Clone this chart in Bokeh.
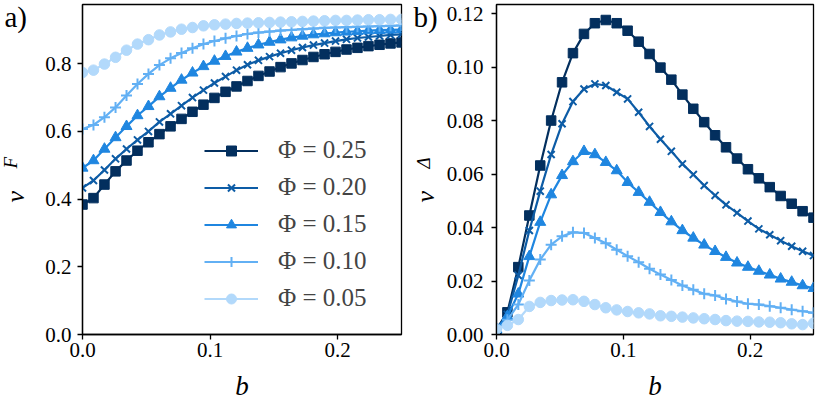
from bokeh.plotting import figure
from bokeh.layouts import row
from bokeh.models import FixedTicker, Legend, LegendItem, Range1d, Title
from bokeh.embed import file_html
from bokeh.resources import INLINE

# ---------------- data ----------------
b = [0.0, 0.0086, 0.0172, 0.0259, 0.0345, 0.0431, 0.0517, 0.0603, 0.0690, 0.0776,
     0.0862, 0.0948, 0.1034, 0.1121, 0.1207, 0.1293, 0.1379, 0.1466, 0.1552, 0.1638,
     0.1724, 0.1810, 0.1897, 0.1983, 0.2069, 0.2155, 0.2241, 0.2328, 0.2414, 0.2500]

phi_labels = ["Φ = 0.25", "Φ = 0.20", "Φ = 0.15", "Φ = 0.10", "Φ = 0.05"]

vF_025 = [0.384, 0.403, 0.443, 0.482, 0.514, 0.543, 0.568, 0.592, 0.615, 0.637,
          0.658, 0.679, 0.699, 0.717, 0.733, 0.749, 0.764, 0.777, 0.790, 0.801,
          0.811, 0.820, 0.828, 0.835, 0.842, 0.847, 0.852, 0.856, 0.860, 0.863]
vF_020 = [0.433, 0.455, 0.486, 0.519, 0.548, 0.575, 0.600, 0.628, 0.652, 0.676,
          0.700, 0.722, 0.743, 0.762, 0.781, 0.797, 0.810, 0.821, 0.831, 0.840,
          0.848, 0.855, 0.861, 0.867, 0.872, 0.876, 0.879, 0.882, 0.885, 0.887]
vF_015 = [0.492, 0.514, 0.548, 0.582, 0.615, 0.647, 0.674, 0.703, 0.728, 0.752,
          0.773, 0.792, 0.808, 0.822, 0.835, 0.846, 0.856, 0.864, 0.871, 0.877,
          0.882, 0.886, 0.889, 0.892, 0.894, 0.896, 0.898, 0.899, 0.900, 0.901]
vF_010 = [0.607, 0.619, 0.642, 0.671, 0.706, 0.740, 0.770, 0.796, 0.816, 0.832,
          0.846, 0.858, 0.867, 0.875, 0.882, 0.888, 0.892, 0.895, 0.898, 0.900,
          0.902, 0.904, 0.906, 0.907, 0.908, 0.909, 0.910, 0.911, 0.912, 0.913]
vF_005 = [0.774, 0.781, 0.799, 0.819, 0.840, 0.858, 0.871, 0.885, 0.894, 0.902,
          0.907, 0.912, 0.915, 0.917, 0.919, 0.920, 0.921, 0.922, 0.923, 0.924,
          0.925, 0.926, 0.927, 0.928, 0.928, 0.929, 0.930, 0.930, 0.931, 0.931]

vD_025 = [0.0020, 0.0083, 0.0252, 0.0445, 0.0632, 0.0800, 0.0943, 0.1052, 0.1124, 0.1164,
          0.1176, 0.1164, 0.1136, 0.1095, 0.1049, 0.0998, 0.0953, 0.0897, 0.0844, 0.0794,
          0.0745, 0.0700, 0.0658, 0.0618, 0.0584, 0.0551, 0.0518, 0.0489, 0.0461, 0.0437]
vD_020 = [0.0020, 0.0075, 0.0221, 0.0389, 0.0536, 0.0673, 0.0788, 0.0871, 0.0918, 0.0937,
          0.0931, 0.0906, 0.0881, 0.0831, 0.0778, 0.0730, 0.0685, 0.0638, 0.0598, 0.0557,
          0.0520, 0.0485, 0.0455, 0.0424, 0.0395, 0.0373, 0.0351, 0.0330, 0.0311, 0.0295]
vD_015 = [0.0020, 0.0068, 0.0152, 0.0292, 0.0420, 0.0523, 0.0595, 0.0647, 0.0685, 0.0673,
          0.0644, 0.0613, 0.0569, 0.0532, 0.0495, 0.0457, 0.0422, 0.0389, 0.0361, 0.0335,
          0.0311, 0.0289, 0.0268, 0.0252, 0.0237, 0.0223, 0.0208, 0.0196, 0.0183, 0.0173]
vD_010 = [0.0015, 0.0055, 0.0112, 0.0202, 0.0280, 0.0336, 0.0367, 0.0382, 0.0380, 0.0361,
          0.0341, 0.0317, 0.0293, 0.0270, 0.0246, 0.0224, 0.0204, 0.0183, 0.0167, 0.0152,
          0.0146, 0.0133, 0.0123, 0.0115, 0.0112, 0.0106, 0.0100, 0.0093, 0.0087, 0.0081]
vD_005 = [0.0020, 0.0034, 0.0056, 0.0105, 0.0120, 0.0127, 0.0129, 0.0130, 0.0124, 0.0112,
          0.0100, 0.0092, 0.0086, 0.0081, 0.0077, 0.0070, 0.0068, 0.0065, 0.0062, 0.0059,
          0.0056, 0.0052, 0.0050, 0.0049, 0.0047, 0.0046, 0.0044, 0.0040, 0.0037, 0.0042]

x_ticks = [0.0, 0.1, 0.2]
x_tick_labels = ["0.0", "0.1", "0.2"]
ya_ticks = [0.0, 0.2, 0.4, 0.6, 0.8]
ya_tick_labels = ["0.0", "0.2", "0.4", "0.6", "0.8"]
yb_ticks = [0.0, 0.02, 0.04, 0.06, 0.08, 0.10, 0.12]
yb_tick_labels = ["0.00", "0.02", "0.04", "0.06", "0.08", "0.10", "0.12"]

# ---------------- style ----------------
colors = ["#032f5e", "#0d5ca6", "#1f86e0", "#62b0f4", "#b2d9fb"]
markers = ["square", "x", "triangle", "cross", "circle"]
msizes = [9.5, 10, 11, 11, 10.5]
mlw = [1, 2, 1, 2, 1]
FONT = "Liberation Serif"
H = 399


def make_fig(width, left, right, ymax, xt, xl, yt, yl, ystand):
    p = figure(width=width, height=H, x_range=Range1d(0, 0.25), y_range=Range1d(0, ymax),
               output_backend="svg", toolbar_location=None, title=None,
               min_border_left=left, min_border_right=right,
               min_border_top=4, min_border_bottom=65)
    p.grid.visible = False
    p.outline_line_color = "black"
    p.outline_line_width = 1.3
    for ax, ticks, labels, st in ((p.xaxis[0], xt, xl, 3), (p.yaxis[0], yt, yl, ystand)):
        ax.ticker = FixedTicker(ticks=ticks)
        ax.major_label_overrides = {t: s for t, s in zip(ticks, labels)}
        ax.minor_tick_line_color = None
        ax.major_tick_in = 0
        ax.major_tick_out = 5
        ax.major_tick_line_width = 1.3
        ax.axis_line_width = 1.3
        ax.axis_line_color = "black"
        ax.major_label_text_font = FONT
        ax.major_label_text_font_size = "21px"
        ax.major_label_text_color = "black"
        ax.major_label_standoff = st
    return p


def title(p, side, text, size, style, standoff, valign, align="left", offset=0):
    p.add_layout(Title(text=text, align=align, offset=offset, standoff=standoff,
                       vertical_align=valign, text_font=FONT, text_font_size=size,
                       text_font_style=style, text_color="black"), side)


pa = make_fig(410, 82, 9, 0.975, x_ticks, x_tick_labels, ya_ticks, ya_tick_labels, 6)
pb = make_fig(420, 86, 17, 0.1234, x_ticks, x_tick_labels, yb_ticks, yb_tick_labels, 8)

series_a = [vF_025, vF_020, vF_015, vF_010, vF_005]
series_b = [vD_025, vD_020, vD_015, vD_010, vD_005]

items = []
for i in range(5):
    la = pa.line(b, series_a[i], line_color=colors[i], line_width=2.2)
    sa = pa.scatter(b, series_a[i], marker=markers[i], size=msizes[i],
                    fill_color=colors[i], line_color=colors[i], line_width=mlw[i])
    pb.line(b, series_b[i], line_color=colors[i], line_width=2.2)
    pb.scatter(b, series_b[i], marker=markers[i], size=msizes[i],
               fill_color=colors[i], line_color=colors[i], line_width=mlw[i])
    items.append(LegendItem(label=phi_labels[i], renderers=[la, sa]))

legend = Legend(items=items, location=(122, 22), padding=0, margin=0,
                spacing=9, glyph_width=54, glyph_height=25, label_height=25,
                label_standoff=20, label_text_font=FONT, label_text_font_size="25px",
                border_line_alpha=0, background_fill_alpha=0)
pa.add_layout(legend)

# panel letters (zero-height titles above the frames)
title(pa, "above", "a)", "29px", "normal", -57, "bottom", offset=-78)
title(pb, "above", "b)", "29px", "normal", -57, "bottom", offset=-83)
# x-axis labels (zero-height titles below the axes)
for p in (pa, pb):
    title(p, "below", "b", "27px", "italic", -82, "bottom", align="center")
# rotated y labels with subscripts
title(pa, "left", "F", "19px", "italic", -86, "top", offset=166)
title(pa, "left", "v", "26px", "italic", -84, "top", offset=132)
title(pb, "left", "Δ", "19px", "italic", -62, "top", offset=166)
title(pb, "left", "v", "26px", "italic", -66, "top", offset=132)

layout = row(pa, pb)
open("out.html", "w").write(file_html(layout, INLINE))
